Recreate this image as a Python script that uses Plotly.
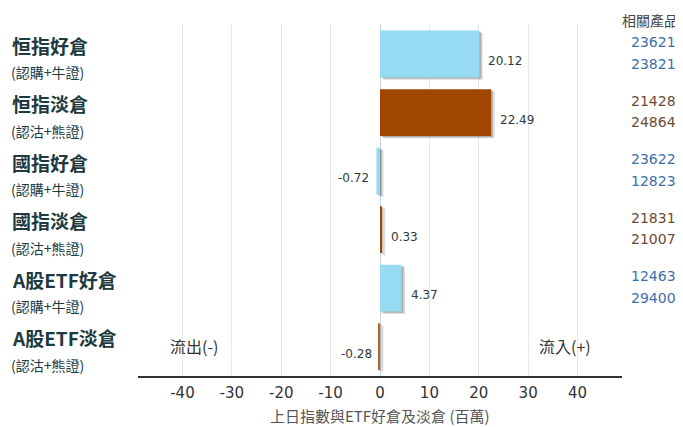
import plotly.graph_objects as go

# category names (top to bottom), sub labels and values (HK$ million)
names = ["恒指好倉", "恒指淡倉", "國指好倉", "國指淡倉", "A股ETF好倉", "A股ETF淡倉"]
sub_names = ["(認購+牛證)", "(認沽+熊證)", "(認購+牛證)", "(認沽+熊證)", "(認購+牛證)", "(認沽+熊證)"]
values = [20.12, 22.49, -0.72, 0.33, 4.37, -0.28]
bar_colors = ["#97dbf2", "#a04600", "#97dbf2", "#a04600", "#97dbf2", "#c0651f"]
products = [["23621", "23821"], ["21428", "24864"], ["23622", "12823"],
            ["21831", "21007"], ["12463", "29400"], []]
prod_colors = ["#3c6fa8", "#6e4a36", "#3c6fa8", "#6e4a36", "#3c6fa8", "#6e4a36"]
tick_vals = [-40, -30, -20, -10, 0, 10, 20, 30, 40]
tick_text = [str(t) for t in tick_vals]
x_title = "上日指數與ETF好倉及淡倉 (百萬)"

FONT = "DejaVu Sans, Verdana, Noto Sans CJK TC"
CJK = "Noto Sans CJK TC, DejaVu Sans"

fig = go.Figure()

# soft shadow behind each bar (two layers)
fig.add_trace(go.Bar(
    y=names, x=values, base=0.7, orientation="h", width=0.8, offset=-0.36,
    marker=dict(color="rgba(60,60,60,0.18)", line=dict(width=0)),
    hoverinfo="skip", showlegend=False))
fig.add_trace(go.Bar(
    y=names, x=values, base=0.35, orientation="h", width=0.8, offset=-0.38,
    marker=dict(color="rgba(60,60,60,0.3)", line=dict(width=0)),
    hoverinfo="skip", showlegend=False))

fig.add_trace(go.Bar(
    y=names, x=values, orientation="h", width=0.8,
    marker=dict(color=bar_colors, line=dict(width=0)),
    showlegend=False))

annotations = []
for i, name in enumerate(names):
    v = values[i]
    # value labels next to bars
    annotations.append(dict(
        x=v, y=name, xref="x", yref="y", text=f"{v:.2f}", showarrow=False,
        xanchor="left" if v >= 0 else "right", xshift=7 if v >= 0 else -5, yshift=-7,
        font=dict(family=FONT, size=12, color="#2b3b40")))
    # left category labels
    annotations.append(dict(
        x=-0.264, y=name, xref="paper", yref="y", showarrow=False, xanchor="left",
        yshift=9, text=f"<b>{name}</b>",
        font=dict(family=CJK, size=19, color="#1d3a40")))
    annotations.append(dict(
        x=-0.267, y=name, xref="paper", yref="y", showarrow=False, xanchor="left",
        yshift=-18, text=sub_names[i],
        font=dict(family=CJK, size=14, color="#1d3a40")))
    # related products
    for j, p in enumerate(products[i]):
        annotations.append(dict(
            x=1.066, y=name, xref="paper", yref="y", showarrow=False, xanchor="center",
            text=p, yshift=12 - 21.5 * j,
            font=dict(family=FONT, size=14, color=prod_colors[i])))

annotations.append(dict(x=1.058, y=1.0, xref="paper", yref="paper", yanchor="middle",
                        xanchor="center", text="相關產品", showarrow=False, yshift=4,
                        font=dict(family=CJK, size=14, color="#444")))
annotations.append(dict(x=-40, y=names[-1], xref="x", yref="y", text="流出(-)", showarrow=False,
                        xanchor="left", xshift=-14, yshift=1,
                        font=dict(family=CJK, size=16, color="#333")))
annotations.append(dict(x=40, y=names[-1], xref="x", yref="y", text="流入(+)", showarrow=False,
                        xanchor="right", xshift=15, yshift=1,
                        font=dict(family=CJK, size=16, color="#333")))
# x axis title
annotations.append(dict(x=0.5, y=0, xref="paper", yref="paper", yanchor="top",
                        xanchor="center", text=x_title, showarrow=False, yshift=-27,
                        font=dict(family=CJK, size=15, color="#555")))

fig.update_layout(
    width=675, height=419,
    margin=dict(l=130, r=61, t=16, b=51),
    paper_bgcolor="white", plot_bgcolor="white",
    barmode="overlay", bargap=0.2,
    annotations=annotations,
    xaxis=dict(range=[-49, 49], tickvals=tick_vals, ticktext=tick_text,
               showgrid=True, gridcolor="#e8e8e8", automargin=False,
               zeroline=True, zerolinecolor="#c5d5e4", zerolinewidth=1,
               showline=True, linecolor="#333", linewidth=2, ticks="",
               ticklabelstandoff=2,
               tickfont=dict(family=FONT, size=15, color="#333")),
    yaxis=dict(autorange="reversed", showticklabels=False, showgrid=False, zeroline=False,
               showline=False, fixedrange=True, automargin=False),
)

fig.write_html("out.html")
